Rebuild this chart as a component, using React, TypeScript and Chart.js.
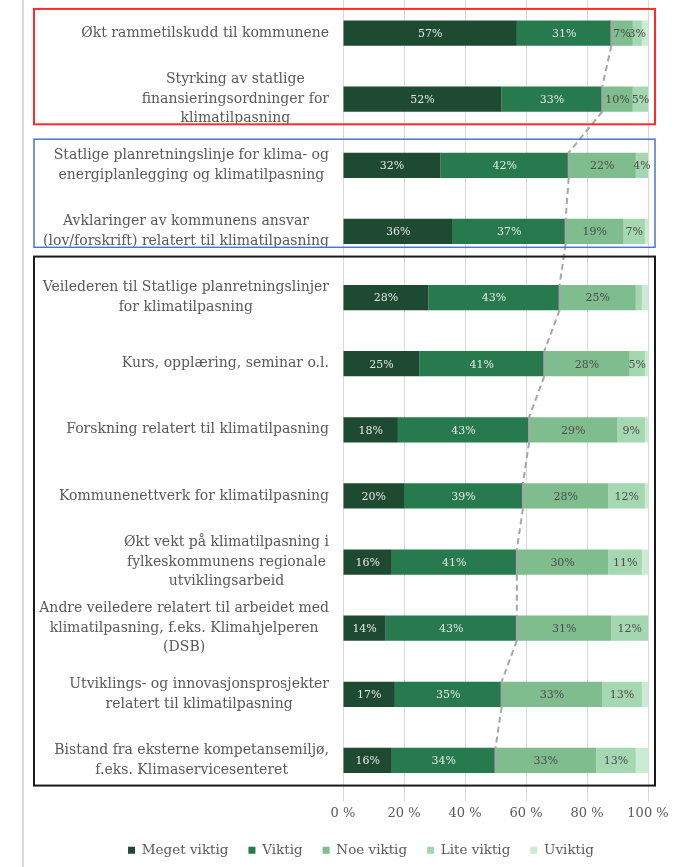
import React, { useEffect, useRef } from "react";
import { Chart, registerables } from "chart.js";

Chart.register(...registerables);

const categories: string[][] = [
  ["Økt rammetilskudd til kommunene"],
  ["Styrking av statlige", "finansieringsordninger for", "klimatilpasning"],
  ["Statlige planretningslinje for klima- og", "energiplanlegging og klimatilpasning"],
  ["Avklaringer av kommunens ansvar", "(lov/forskrift) relatert til klimatilpasning"],
  ["Veilederen til Statlige planretningslinjer", "for klimatilpasning"],
  ["Kurs, opplæring, seminar o.l."],
  ["Forskning relatert til klimatilpasning"],
  ["Kommunenettverk for klimatilpasning"],
  ["Økt vekt på klimatilpasning i", "fylkeskommunens regionale", "utviklingsarbeid"],
  ["Andre veiledere relatert til arbeidet med", "klimatilpasning, f.eks. Klimahjelperen", "(DSB)"],
  ["Utviklings- og innovasjonsprosjekter", "relatert til klimatilpasning"],
  ["Bistand fra eksterne kompetansemiljø,", "f.eks. Klimaservicesenteret"],
];

const megetViktig = [57, 52, 32, 36, 28, 25, 18, 20, 16, 14, 17, 16];
const viktig = [31, 33, 42, 37, 43, 41, 43, 39, 41, 43, 35, 34];
const noeViktig = [7, 10, 22, 19, 25, 28, 29, 28, 30, 31, 33, 33];
const liteViktig = [3, 5, 4, 7, 2, 5, 9, 12, 11, 12, 13, 13];
const uviktig = [2, 0, 0, 1, 2, 1, 1, 1, 2, 0, 2, 4];

const seriesNames = ["Meget viktig", "Viktig", "Noe viktig", "Lite viktig", "Uviktig"];
const seriesColors = ["#1d4a30", "#277a4e", "#7fbd8e", "#a5d7b1", "#cbebd3"];
const labelColors = ["#e6e6e6", "#e6e6e6", "#4d4d4d", "#4d4d4d", "#4d4d4d"];
const xTicks = [0, 20, 40, 60, 80, 100];

// groups of categories framed by coloured boxes: [firstIndex, lastIndex, colour, lineWidth, topOffset, bottomOffset]
const groups: [number, number, string, number, number, number][] = [
  [0, 1, "#ff2a2a", 2, 0.365, 0.38],
  [2, 3, "#4a78c8", 1.5, 0.395, 0.24],
  [4, 11, "#1a1a1a", 2, 0.62, 0.38],
];

const FONT = '"DejaVu Serif", serif';

const decorPlugin = {
  id: "decor",
  beforeDraw(chart: any) {
    const ctx = chart.ctx;
    ctx.save();
    ctx.strokeStyle = "#d9d9d9";
    ctx.lineWidth = 2;
    ctx.beginPath();
    ctx.moveTo(23, 0);
    ctx.lineTo(23, chart.height);
    ctx.stroke();
    ctx.restore();
  },
  afterDatasetsDraw(chart: any) {
    const ctx = chart.ctx;
    const x = chart.scales.x;
    const y = chart.scales.y;
    ctx.save();
    // data labels
    ctx.font = `11px ${FONT}`;
    ctx.textAlign = "center";
    ctx.textBaseline = "middle";
    chart.data.datasets.forEach((ds: any, di: number) => {
      if (di > 3) return;
      const meta = chart.getDatasetMeta(di);
      meta.data.forEach((el: any, i: number) => {
        const v = ds.data[i];
        if (v < 3) return;
        const p = el.getProps(["x", "base", "y"], true);
        ctx.fillStyle = labelColors[di];
        ctx.fillText(`${v}%`, (p.x + p.base) / 2, p.y + 1);
      });
    });
    // series lines at end of "Viktig"
    const meta = chart.getDatasetMeta(1);
    ctx.strokeStyle = "#a6a6a6";
    ctx.lineWidth = 2;
    meta.data.forEach((el: any, i: number) => {
      const p = el.getProps(["x", "y", "height"], true);
      ctx.setLineDash([]);
      ctx.beginPath();
      ctx.moveTo(p.x, p.y - p.height / 2);
      ctx.lineTo(p.x, p.y + p.height / 2);
      ctx.stroke();
      const next = meta.data[i + 1];
      if (next) {
        const q = next.getProps(["x", "y", "height"], true);
        ctx.setLineDash([6, 4]);
        ctx.beginPath();
        ctx.moveTo(p.x, p.y + p.height / 2);
        ctx.lineTo(q.x, q.y - q.height / 2);
        ctx.stroke();
      }
    });
    ctx.setLineDash([]);
    // category labels (right aligned block, centred lines)
    ctx.font = `14px ${FONT}`;
    ctx.fillStyle = "#595959";
    const right = chart.chartArea.left - 14;
    categories.forEach((lines, i) => {
      const cy = y.getPixelForValue(i);
      const maxW = Math.max(...lines.map((l) => ctx.measureText(l).width));
      const cx = right - maxW / 2;
      const lh = 19.5;
      const top = cy - ((lines.length - 1) * lh) / 2;
      lines.forEach((l, k) => ctx.fillText(l, cx, top + k * lh));
    });
    // group frames
    groups.forEach(([a, b, col, lw, t, bt]) => {
      const y0 = y.getPixelForValue(a - t);
      const y1 = y.getPixelForValue(b + bt);
      const x0 = 34;
      const x1 = x.getPixelForValue(100) + 7;
      ctx.strokeStyle = col;
      ctx.lineWidth = lw;
      ctx.strokeRect(x0, y0, x1 - x0, y1 - y0);
    });
    ctx.restore();
  },
};

export default function App() {
  const ref = useRef<HTMLCanvasElement | null>(null);
  useEffect(() => {
    if (!ref.current) return;
    const values = [megetViktig, viktig, noeViktig, liteViktig, uviktig];
    const chart = new Chart(ref.current, {
      type: "bar",
      data: {
        labels: categories.map((c) => c.join(" ")),
        datasets: values.map((d, i) => ({
          label: seriesNames[i],
          data: d,
          backgroundColor: seriesColors[i],
          borderWidth: 0,
          categoryPercentage: 1,
          barPercentage: 0.38,
        })),
      },
      options: {
        indexAxis: "y",
        responsive: false,
        animation: false,
        layout: { padding: { left: 74, right: 42, top: 0, bottom: 0 } },
        scales: {
          x: {
            stacked: true,
            min: 0,
            max: 100,
            afterBuildTicks: (s: any) => {
              s.ticks = xTicks.map((v) => ({ value: v }));
            },
            afterFit: (s: any) => {
              s.height = 30;
            },
            ticks: {
              callback: (v: any) => `${v} %`,
              color: "#595959",
              font: { family: FONT, size: 13 },
              padding: 4,
            },
            grid: { color: "#d9d9d9", tickLength: 8, lineWidth: 1 },
            border: { display: false },
          },
          y: {
            stacked: true,
            afterFit: (s: any) => {
              s.width = 269;
            },
            ticks: { display: false },
            grid: { display: false },
            border: { display: false },
          },
        },
        plugins: {
          legend: {
            position: "bottom",
            labels: {
              boxWidth: 7,
              boxHeight: 7,
              padding: 20,
              color: "#595959",
              font: { family: FONT, size: 13.5 },
            },
          },
          tooltip: { enabled: false },
        },
      },
      plugins: [decorPlugin],
    });
    return () => chart.destroy();
  }, []);
  return (
    <div style={{ position: "fixed", left: 0, top: 0, width: 690, height: 867, background: "#fff" }}>
      <canvas ref={ref} width={690} height={867} />
    </div>
  );
}
